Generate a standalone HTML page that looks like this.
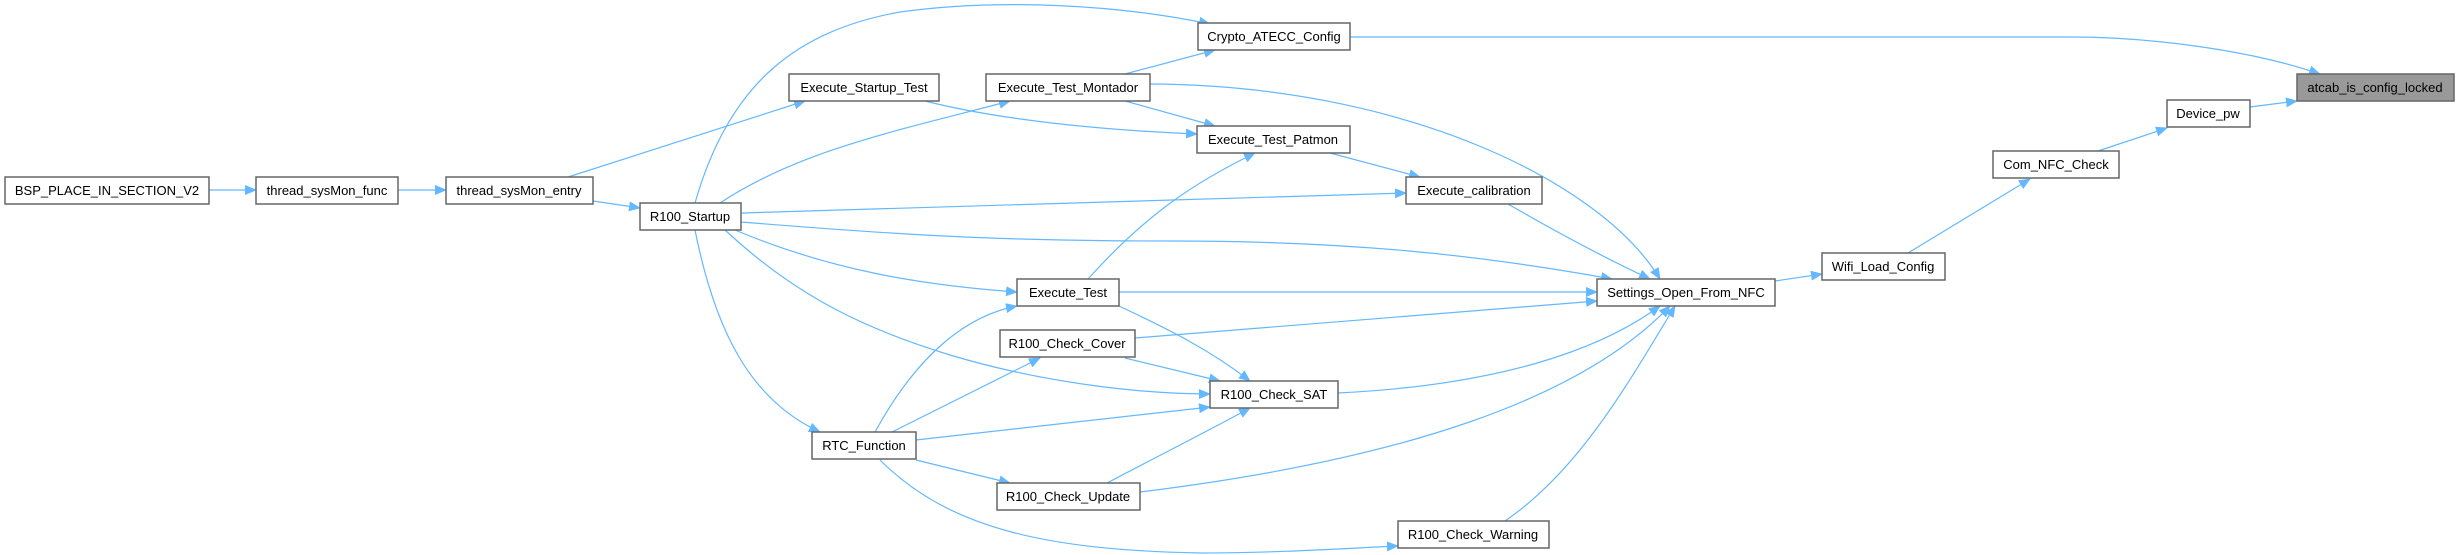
<!DOCTYPE html>
<html><head><meta charset="utf-8"><style>
html,body{margin:0;padding:0;background:#fff;}
svg{display:block;}
.n rect{fill:#fff;stroke:#666;stroke-width:1.5;}
.n text{font-family:"Liberation Sans",sans-serif;font-size:13px;fill:#000;text-anchor:middle;}
.e{fill:none;stroke:#63b8ff;stroke-width:1.2;marker-end:url(#a);}
</style></head><body>
<svg width="2457" height="555" viewBox="0 0 2457 555" xmlns="http://www.w3.org/2000/svg">
<defs><marker id="a" markerWidth="12" markerHeight="10" refX="11" refY="5" orient="auto" markerUnits="userSpaceOnUse"><path d="M0,0 L12,5 L0,10 z" fill="#63b8ff"/></marker></defs>
<g>
<path class="e" d="M209,190 L256,190"/>
<path class="e" d="M398,190 L446,190"/>
<path class="e" d="M593,201 L640,208"/>
<path class="e" d="M568,177 L805,101"/>
<path class="e" d="M695,203 C730,80 800,30 900,12 C1000,-2 1120,5 1210,24"/>
<path class="e" d="M720,203 C800,150 900,130 1010,101"/>
<path class="e" d="M741,213 L1406,193"/>
<path class="e" d="M741,222 C900,235 1000,241 1170,241 C1350,241 1480,255 1612,279"/>
<path class="e" d="M735,230 C830,270 920,285 1017,292"/>
<path class="e" d="M725,230 C800,300 870,330 950,355 C1050,385 1150,394 1210,394"/>
<path class="e" d="M695,230 C715,330 750,400 820,432"/>
<path class="e" d="M925,101 C1000,120 1100,130 1197,134"/>
<path class="e" d="M1125,74 L1215,50"/>
<path class="e" d="M1125,101 L1215,126"/>
<path class="e" d="M1150,84 C1400,85 1600,180 1660,279"/>
<path class="e" d="M1350,37 L2070,37 C2150,37 2250,50 2320,74"/>
<path class="e" d="M1330,153 L1420,177"/>
<path class="e" d="M1088,279 C1150,210 1200,180 1255,153"/>
<path class="e" d="M1119,292 L1597,292"/>
<path class="e" d="M1119,306 C1170,330 1210,350 1250,381"/>
<path class="e" d="M1508,204 C1570,240 1620,265 1650,279"/>
<path class="e" d="M1135,338 L1597,301"/>
<path class="e" d="M1125,358 L1220,381"/>
<path class="e" d="M1338,393 C1500,385 1600,350 1660,306"/>
<path class="e" d="M875,432 C920,350 970,315 1017,306"/>
<path class="e" d="M892,432 L1040,358"/>
<path class="e" d="M916,440 L1210,407"/>
<path class="e" d="M916,460 L1010,483"/>
<path class="e" d="M880,460 C950,530 1050,550 1200,553 C1280,553 1350,548 1398,546"/>
<path class="e" d="M1107,483 C1160,455 1210,430 1250,408"/>
<path class="e" d="M1140,492 C1400,460 1580,400 1670,306"/>
<path class="e" d="M1505,521 C1580,470 1630,380 1675,306"/>
<path class="e" d="M1775,281 L1822,274"/>
<path class="e" d="M1908,253 L2030,179"/>
<path class="e" d="M2098,151 L2167,128"/>
<path class="e" d="M2250,107 L2297,101"/>
</g>
<g class="n"><rect x="5" y="177" width="204" height="27"/><text x="107" y="195">BSP_PLACE_IN_SECTION_V2</text></g>
<g class="n"><rect x="256" y="177" width="142" height="27"/><text x="327" y="195">thread_sysMon_func</text></g>
<g class="n"><rect x="446" y="177" width="147" height="27"/><text x="519" y="195">thread_sysMon_entry</text></g>
<g class="n"><rect x="640" y="203" width="101" height="27"/><text x="690" y="221">R100_Startup</text></g>
<g class="n"><rect x="789" y="74" width="150" height="27"/><text x="864" y="92">Execute_Startup_Test</text></g>
<g class="n"><rect x="986" y="74" width="164" height="27"/><text x="1068" y="92">Execute_Test_Montador</text></g>
<g class="n"><rect x="1198" y="23" width="152" height="27"/><text x="1274" y="41">Crypto_ATECC_Config</text></g>
<g class="n"><rect x="1197" y="126" width="153" height="27"/><text x="1273" y="144">Execute_Test_Patmon</text></g>
<g class="n"><rect x="1406" y="177" width="136" height="27"/><text x="1474" y="195">Execute_calibration</text></g>
<g class="n"><rect x="1017" y="279" width="102" height="27"/><text x="1068" y="297">Execute_Test</text></g>
<g class="n"><rect x="1000" y="330" width="135" height="27"/><text x="1067" y="348">R100_Check_Cover</text></g>
<g class="n"><rect x="1210" y="381" width="128" height="27"/><text x="1274" y="399">R100_Check_SAT</text></g>
<g class="n"><rect x="812" y="432" width="104" height="27"/><text x="864" y="450">RTC_Function</text></g>
<g class="n"><rect x="997" y="483" width="143" height="27"/><text x="1068" y="501">R100_Check_Update</text></g>
<g class="n"><rect x="1398" y="521" width="151" height="27"/><text x="1473" y="539">R100_Check_Warning</text></g>
<g class="n"><rect x="1597" y="279" width="178" height="27"/><text x="1686" y="297">Settings_Open_From_NFC</text></g>
<g class="n"><rect x="1822" y="253" width="123" height="27"/><text x="1883" y="271">Wifi_Load_Config</text></g>
<g class="n"><rect x="1993" y="151" width="126" height="27"/><text x="2056" y="169">Com_NFC_Check</text></g>
<g class="n"><rect x="2167" y="100" width="83" height="27"/><text x="2208" y="118">Device_pw</text></g>
<g class="n"><rect x="2297" y="74" width="157" height="27" style="fill:#999"/><text x="2375" y="92">atcab_is_config_locked</text></g>
</svg>
</body></html>
